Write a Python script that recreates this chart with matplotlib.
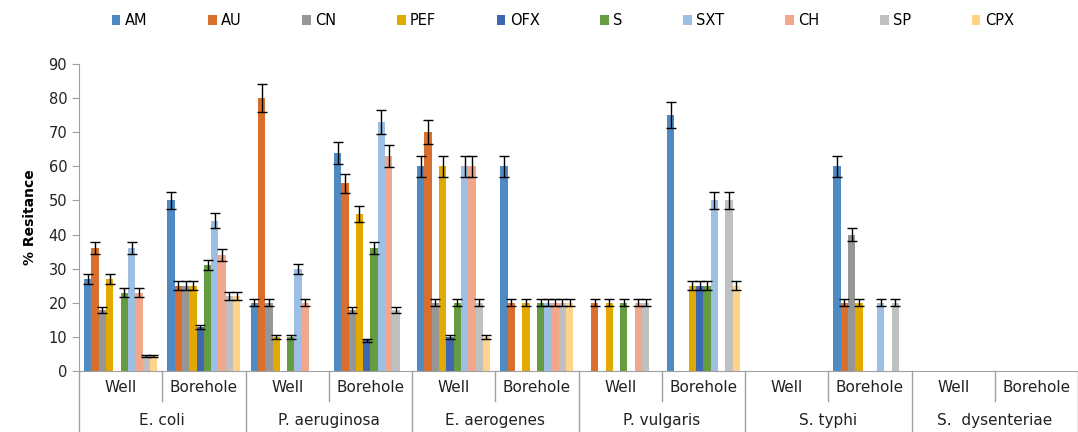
import numpy as np
import matplotlib
matplotlib.use('Agg')
import matplotlib.pyplot as plt
import matplotlib.transforms as mtransforms

# antibiotics (series)
drugs = ['AM', 'AU', 'CN', 'PEF', 'OFX', 'S', 'SXT', 'CH', 'SP', 'CPX']
colors = ['#4F8BC2', '#D86F2E', '#969696', '#E2AA00', '#4068B0',
          '#659C41', '#9DBFE3', '#F0A78C', '#C0C0C0', '#FFD48A']

organisms = ['E. coli', 'P. aeruginosa', 'E. aerogenes', 'P. vulgaris',
             'S. typhi', 'S.  dysenteriae']
sources = ['Well', 'Borehole']

# % resistance, one row per (organism, source), columns follow drugs
resist = [
    [27, 36, 18, 27, 0, 23, 36, 23, 4.5, 4.5],    # E. coli well
    [50, 25, 25, 25, 13, 31, 44, 34, 22, 22],     # E. coli borehole
    [20, 80, 20, 10, 0, 10, 30, 20, 0, 0],        # P. aeruginosa well
    [64, 55, 18, 46, 9, 36, 73, 63, 18, 0],       # P. aeruginosa borehole
    [60, 70, 20, 60, 10, 20, 60, 60, 20, 10],     # E. aerogenes well
    [60, 20, 0, 20, 0, 20, 20, 20, 20, 20],       # E. aerogenes borehole
    [0, 20, 0, 20, 0, 20, 0, 20, 20, 0],          # P. vulgaris well
    [75, 0, 0, 25, 25, 25, 50, 0, 50, 25],        # P. vulgaris borehole
    [0, 0, 0, 0, 0, 0, 0, 0, 0, 0],               # S. typhi well
    [60, 20, 40, 20, 0, 0, 20, 0, 20, 0],         # S. typhi borehole
    [0, 0, 0, 0, 0, 0, 0, 0, 0, 0],               # S. dysenteriae well
    [0, 0, 0, 0, 0, 0, 0, 0, 0, 0],               # S. dysenteriae borehole
]

errors = [
    [1.4, 1.8, 0.9, 1.4, 0, 1.2, 1.8, 1.2, 0.3, 0.3],
    [2.5, 1.3, 1.3, 1.3, 0.6, 1.5, 2.2, 1.7, 1.1, 1.1],
    [1.0, 4.0, 1.0, 0.5, 0, 0.5, 1.5, 1.0, 0, 0],
    [3.2, 2.8, 0.9, 2.3, 0.4, 1.8, 3.6, 3.2, 0.9, 0],
    [3.0, 3.5, 1.0, 3.0, 0.5, 1.0, 3.0, 3.0, 1.0, 0.5],
    [3.0, 1.0, 0, 1.0, 0, 1.0, 1.0, 1.0, 1.0, 1.0],
    [0, 1.0, 0, 1.0, 0, 1.0, 0, 1.0, 1.0, 0],
    [3.8, 0, 0, 1.3, 1.3, 1.3, 2.5, 0, 2.5, 1.3],
    [0, 0, 0, 0, 0, 0, 0, 0, 0, 0],
    [3.0, 1.0, 2.0, 1.0, 0, 0, 1.0, 0, 1.0, 0],
    [0, 0, 0, 0, 0, 0, 0, 0, 0, 0],
    [0, 0, 0, 0, 0, 0, 0, 0, 0, 0],
]

resist = np.array(resist, dtype=float)
errors = np.array(errors, dtype=float)

fig = plt.figure(figsize=(10.78, 4.32), dpi=100)
ax = fig.add_axes([0.0733, 0.141, 0.9267, 0.711])

n_slots = len(resist)
centers = np.arange(n_slots) + 0.5
w = 0.876 / len(drugs)

for j, (d, c) in enumerate(zip(drugs, colors)):
    xs = centers + (j - 4.5) * w
    ax.bar(xs, resist[:, j], width=w, color=c, label=d, zorder=2)
    m = resist[:, j] > 0
    ax.errorbar(xs[m], resist[m, j], yerr=errors[m, j], fmt='none',
                ecolor='black', elinewidth=1.0, capsize=3.5, capthick=1.0,
                zorder=3)

ax.set_xlim(0, n_slots)
ax.set_ylim(0, 90)
ax.set_yticks(np.arange(0, 91, 10))
ax.tick_params(axis='y', labelsize=10.5, length=5, color='#A0A0A0',
               labelcolor='#222222')
ax.set_xticks([])
for s in ['top', 'right']:
    ax.spines[s].set_visible(False)
for s in ['left', 'bottom']:
    ax.spines[s].set_color('#A0A0A0')

ax.set_ylabel('% Resitance', fontsize=10, fontweight='bold',
              family=['Liberation Sans Narrow', 'DejaVu Sans'], labelpad=8)

# two-level category axis
trans = mtransforms.blended_transform_factory(ax.transData, ax.transAxes)
for i in range(n_slots):
    ax.text(centers[i], -0.055, sources[i % 2], transform=trans,
            ha='center', va='center', fontsize=11, color='#222222')
for k, org in enumerate(organisms):
    ax.text(2 * k + 1, -0.16, org, transform=trans, ha='center',
            va='center', fontsize=11, color='#222222')
for x in range(0, n_slots + 1):
    low = -0.2 if x % 2 == 0 else -0.098
    ax.plot([x, x], [0, low], transform=trans, color='#A0A0A0',
            lw=1, clip_on=False)

fig.legend(loc='upper center', bbox_to_anchor=(0.522, 1.0), ncol=10,
           frameon=False, fontsize=10.5, handlelength=0.6,
           handleheight=0.6, handletextpad=0.3, columnspacing=4.15)

fig.savefig('out.png', dpi=100)
